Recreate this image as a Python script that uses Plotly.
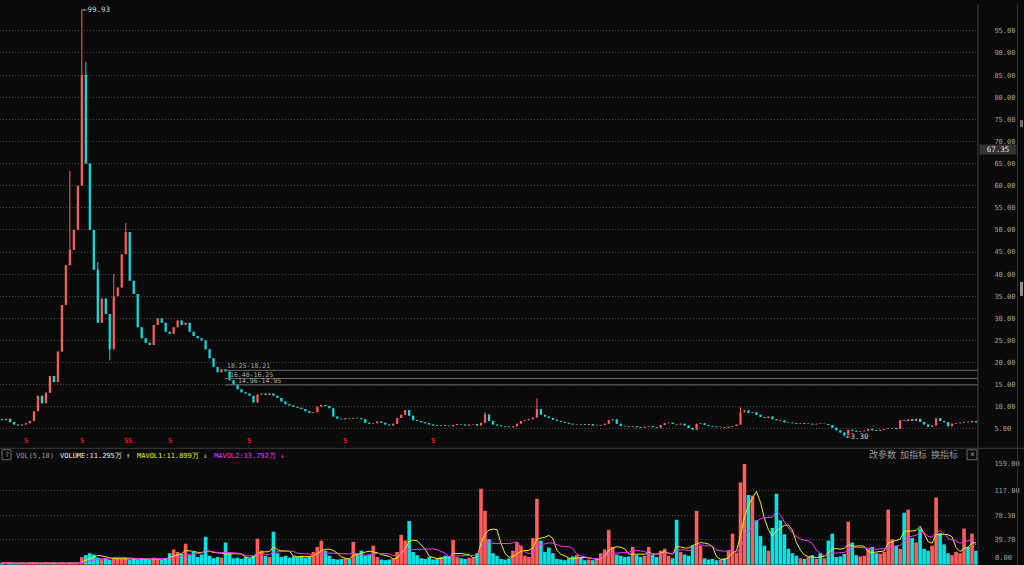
import plotly.graph_objects as go
import pandas as pd

# ---------------- data ----------------
FIRST_OPEN = 7.2
CLOSE = [
    7.0, 7.3, 6.6, 6.0, 5.8, 6.0, 6.3, 6.8, 9.0, 12.5,
    10.8, 13.2, 17.0, 15.6, 22.5, 33.0, 42.0, 45.5, 50.0, 60.0,
    85.0, 65.0, 50.0, 41.0, 29.0, 34.5, 31.0, 23.0, 35.0, 37.0,
    44.5, 49.5, 38.5, 35.5, 28.0, 25.5, 24.5, 24.0, 28.5, 30.0,
    29.0, 27.0, 26.5, 28.0, 29.5, 28.5, 29.0, 27.0, 26.0, 25.5,
    25.0, 23.0, 21.0, 19.0, 17.8, 18.5, 18.0, 16.0, 15.0, 14.0,
    13.3, 13.0, 12.5, 11.0, 12.8, 13.0, 12.7, 13.0, 12.5, 12.0,
    11.2, 10.6, 10.3, 10.0, 9.8, 9.5, 9.0, 8.6, 8.8, 10.0,
    10.4, 10.2, 9.7, 7.8, 7.3, 7.2, 7.4, 7.3, 7.5, 7.4,
    7.2, 6.4, 6.2, 6.3, 6.7, 6.4, 6.0, 5.8, 6.2, 7.5,
    8.2, 9.3, 8.0, 7.0, 6.8, 6.5, 6.3, 6.0, 5.8, 5.7,
    5.8, 5.7, 5.6, 5.9, 6.1, 6.0, 5.8, 6.0, 6.1, 5.8,
    6.4, 8.3, 6.8, 6.0, 5.8, 5.6, 5.5, 5.4, 5.6, 6.2,
    6.8, 7.0, 7.2, 7.6, 9.5, 8.2, 7.8, 7.5, 7.1, 6.8,
    6.6, 6.4, 6.2, 6.0, 6.1, 6.0, 5.9, 6.1, 5.8, 5.8,
    5.9, 6.2, 7.0, 7.2, 6.2, 5.7, 5.6, 5.5, 5.6, 5.4,
    5.3, 5.5, 5.6, 5.4, 5.3, 5.9, 6.3, 6.4, 6.1, 6.0,
    6.2, 5.8, 5.2, 4.8, 6.2, 6.3, 5.9, 5.7, 5.5, 5.4,
    5.4, 5.3, 5.5, 5.7, 6.0, 8.8, 9.2, 8.6, 8.8, 8.2,
    7.7, 7.5, 7.8, 7.2, 7.0, 6.9, 6.5, 6.4, 6.3, 6.2,
    6.3, 6.1, 6.2, 6.0, 6.2, 6.1, 6.1, 5.9, 5.3, 4.7,
    4.2, 3.6, 4.8, 4.6, 4.4, 4.5, 4.6, 5.0, 4.7, 4.6,
    4.8, 5.0, 5.1, 5.2, 5.0, 7.0, 6.8, 7.2, 6.8, 7.3,
    6.6, 6.0, 5.5, 5.8, 7.4, 6.8, 6.5, 5.6, 6.2, 6.3,
    6.4, 6.6, 6.5, 6.8, 6.5,
]
HIGH_MARKS = {17: 63.3, 20: 99.93, 21: 88.0, 24: 42.7, 28: 40.0, 31: 51.5, 121: 8.8, 134: 11.9, 185: 9.9}
LOW_MARKS = {27: 20.5, 211: 3.30}

VOLUME = [
    3, 2, 3, 2, 2, 3, 2, 3, 4, 3,
    2, 3, 2, 3, 2, 3, 2, 3, 2, 2,
    12, 15, 18, 16, 11, 9, 10, 8, 9, 10,
    9, 10, 8, 9, 8, 10, 9, 8, 11, 9,
    8, 9, 18, 24, 20, 17, 33, 15, 20, 12,
    16, 44, 14, 10, 12, 11, 35, 18, 10, 11,
    9, 12, 10, 14, 41, 22, 14, 12, 52, 18,
    12, 14, 11, 13, 12, 14, 11, 13, 20, 28,
    38, 22, 14, 9, 8, 9, 10, 9, 36, 18,
    22, 14, 16, 30, 12, 8, 7, 8, 9, 20,
    47, 38, 69, 20, 15, 10, 9, 12, 8, 9,
    12, 14, 13, 39, 12, 10, 9, 11, 10, 18,
    120, 85, 40, 18, 14, 9, 8, 10, 22, 35,
    30, 14, 12, 42, 104, 38, 20, 27, 18, 9,
    8, 7, 10, 13, 15, 11, 7, 8, 7, 8,
    18, 24, 55, 28, 16, 14, 12, 13, 28, 15,
    12, 14, 28, 16, 12, 22, 25, 14, 10, 71,
    20, 16, 14, 30, 85, 30, 10, 8, 9, 7,
    8, 10, 22, 49, 18, 130, 159, 110, 109, 70,
    45, 30, 22, 58, 112, 70, 48, 25, 18, 14,
    10, 9, 12, 15, 9, 18, 10, 38, 49, 12,
    13, 17, 68, 35, 15, 13, 14, 25, 28, 18,
    17, 20, 87, 40, 30, 25, 82, 87, 42, 35,
    57, 25, 22, 30, 106, 50, 32, 18, 15, 20,
    18, 57, 28, 49, 22,
]

PRICE_TICKS = [5, 10, 15, 20, 25, 30, 35, 40, 45, 50, 55, 60, 65, 70, 75, 80, 85, 90, 95]
VOL_TICKS = [39.7, 78.3, 117.0, 159.0]
VOL_TICK_TEXT = ["39.70", "78.30", "117.00", "159.00"]
LEVELS = [18.25, 16.40, 14.96]
LEVEL_TEXT = ["18.25-18.21", "16.40-16.25", "14.96-14.95"]
SIGNAL_IDX = [6, 20, 31, 32, 42, 62, 86, 108]
CURRENT_PRICE = "67.35"
VOL_LEGEND = ["VOL(5,10)", "VOLUME:11.295万 ↑", "MAVOL1:11.899万 ↓", "MAVOL2:13.792万 ↓"]
MENU = "改参数  加指标  换指标"

# ---------------- build ----------------
W, H = 1024, 565
N = len(CLOSE)
idx = list(range(N))
OPEN = [FIRST_OPEN] + CLOSE[:-1]
HIGH = [max(o, c, HIGH_MARKS.get(i, 0)) for i, (o, c) in enumerate(zip(OPEN, CLOSE))]
LOW = [min(o, c, LOW_MARKS.get(i, 1e9)) for i, (o, c) in enumerate(zip(OPEN, CLOSE))]
IS_UP = [c >= o for o, c in zip(OPEN, CLOSE)]

UP = "#ff5c5c"
DOWN = "#00e6e6"
BG = "#0a0a0a"
GRID = "#4a4a4a"
TXT = "#a0a0a0"
MONO = "DejaVu Sans Mono"
DOTS = "1px,2px"

def px(x):
    return x / W

def py(y):
    return 1 - y / H

XR = 978 / W

fig = go.Figure()

# candle wicks (one path per colour)
for flag, col in ((True, UP), (False, DOWN)):
    wx, wy = [], []
    for i in idx:
        if IS_UP[i] == flag:
            wx += [i, i, None]
            wy += [LOW[i], HIGH[i], None]
    fig.add_trace(go.Scatter(x=wx, y=wy, mode="lines", line=dict(color=col, width=1),
                             xaxis="x", yaxis="y", hoverinfo="skip", connectgaps=False))

# candle bodies
body_base = [min(o, c) for o, c in zip(OPEN, CLOSE)]
body_len = [max(abs(c - o), 0.15) for o, c in zip(OPEN, CLOSE)]
candle_colors = [UP if u else DOWN for u in IS_UP]
fig.add_trace(go.Bar(x=idx, y=body_len, base=body_base, width=0.55,
                     marker=dict(color=candle_colors, line=dict(width=0)),
                     xaxis="x", yaxis="y", hoverinfo="skip"))

# volume
fig.add_trace(go.Bar(x=idx, y=VOLUME, width=0.9, marker=dict(color=candle_colors, line=dict(width=0)),
                     xaxis="x2", yaxis="y2", hoverinfo="skip"))
vs = pd.Series(VOLUME, dtype=float)
fig.add_trace(go.Scatter(x=idx, y=vs.rolling(5, min_periods=1).mean(), mode="lines",
                         line=dict(color="#f0f000", width=1), xaxis="x2", yaxis="y2", hoverinfo="skip"))
fig.add_trace(go.Scatter(x=idx, y=vs.rolling(10, min_periods=1).mean(), mode="lines",
                         line=dict(color="#ff30ff", width=1), xaxis="x2", yaxis="y2", hoverinfo="skip"))

ann = []
shapes = []

def text(x, y, t, color=TXT, size=7, xanchor="left", family=MONO, **kw):
    ann.append(dict(x=px(x), y=py(y), xref="paper", yref="paper", text=t, showarrow=False,
                    xanchor=xanchor, yanchor="middle", font=dict(color=color, size=size, family=family), **kw))

# extremes
ann.append(dict(x=20, y=99.93, xref="x", yref="y", text="←99.93", showarrow=False, xanchor="left",
                yanchor="middle", xshift=-1, font=dict(color="#d0d0d0", size=7.5, family=MONO)))
ann.append(dict(x=211, y=3.30, xref="x", yref="y", text="←3.30", showarrow=False, xanchor="left",
                yanchor="middle", xshift=0, font=dict(color="#d0d0d0", size=7.5, family=MONO)))

# level lines
for k, (lv, lt) in enumerate(zip(LEVELS, LEVEL_TEXT)):
    shapes.append(dict(type="line", xref="x", yref="y", x0=55.8, x1=N - 0.5, y0=lv, y1=lv,
                       line=dict(color="#6a6a6a", width=1)))
    ann.append(dict(x=[55.8, 56.6, 58.5][k], y=lv, xref="x", yref="y", text=lt, showarrow=False,
                    xanchor="left", yanchor="bottom", yshift=-2,
                    font=dict(color="#a8a8a8", size=6.5, family=MONO)))

# signal marks
for si in SIGNAL_IDX:
    ann.append(dict(x=si, y=py(440), xref="x", yref="paper", text="<b>S</b>", showarrow=False,
                    xanchor="center", yanchor="middle", font=dict(color="#ff1010", size=7, family=MONO)))

# current price box
ann.append(dict(x=px(998), y=py(146.5), xref="paper", yref="paper", text=CURRENT_PRICE, showarrow=False,
                xanchor="center", yanchor="middle", bgcolor="#333333", borderpad=0, width=36, height=9,
                font=dict(color="#e0e0e0", size=7.5, family=MONO)))

# volume legend row
text(14, 455, VOL_LEGEND[0], color="#9a9a9a")
text(58, 455, VOL_LEGEND[1], color="#f0f0f0")
text(135, 455, VOL_LEGEND[2], color="#f0f000")
text(212, 455, VOL_LEGEND[3], color="#ff30ff")
text(6.5, 454, "?", color="#9a9a9a", xanchor="center")
shapes.append(dict(type="rect", xref="paper", yref="paper", x0=px(2), x1=px(11), y0=py(459), y1=py(449),
                   line=dict(color="#6a6a6a", width=1)))
text(960, 454, MENU, color="#9a9a9a", size=9, xanchor="right", family="Noto Sans CJK SC")
shapes.append(dict(type="rect", xref="paper", yref="paper", x0=px(967), x1=px(977), y0=py(459), y1=py(449),
                   line=dict(color="#6a6a6a", width=1)))
text(972, 454, "×", color="#9a9a9a", xanchor="center", size=8)
text(993, 558, "0.00", color=TXT)

# frame lines
shapes.append(dict(type="line", xref="paper", yref="paper", x0=XR, x1=XR, y0=0, y1=1,
                   line=dict(color="#3c3c3c", width=1)))
shapes.append(dict(type="line", xref="paper", yref="paper", x0=0, x1=1, y0=py(447.5), y1=py(447.5),
                   line=dict(color="#3c3c3c", width=1)))
shapes.append(dict(type="line", xref="paper", yref="paper", x0=px(1017.5), x1=px(1017.5), y0=0, y1=1,
                   line=dict(color="#2e2e2e", width=1)))
shapes.append(dict(type="rect", xref="paper", yref="paper", x0=px(1020), x1=px(1023), y0=py(124), y1=py(117),
                   line=dict(width=0), fillcolor="#707070"))
shapes.append(dict(type="rect", xref="paper", yref="paper", x0=px(1020), x1=px(1023), y0=py(294), y1=py(280),
                   line=dict(width=0), fillcolor="#909090"))

price_dom_bottom = py(447)
fig.update_layout(
    width=W, height=H, autosize=False,
    margin=dict(l=0, r=0, t=0, b=0),
    paper_bgcolor=BG, plot_bgcolor=BG,
    showlegend=False, barmode="overlay", dragmode=False,
    xaxis=dict(domain=[0, XR], range=[-0.5, N - 0.5], visible=False, fixedrange=True),
    xaxis2=dict(domain=[0, XR], range=[-0.5, N - 0.5], visible=False, anchor="y2", matches="x",
                fixedrange=True),
    yaxis=dict(domain=[price_dom_bottom, 1], range=[0.74, 101.06], side="right", anchor="x",
               tickvals=PRICE_TICKS, ticktext=[f"{v:.2f}" for v in PRICE_TICKS],
               showgrid=True, gridcolor=GRID, griddash=DOTS, gridwidth=1, zeroline=False,
               ticks="outside", ticklen=14, tickcolor="rgba(0,0,0,0)", showline=False,
               tickfont=dict(color=TXT, size=7, family=MONO), fixedrange=True),
    yaxis2=dict(domain=[0, py(463.3)], range=[-0.6, 159], side="right", anchor="x2",
                tickvals=VOL_TICKS, ticktext=VOL_TICK_TEXT,
                showgrid=True, gridcolor=GRID, griddash=DOTS, gridwidth=1, zeroline=False,
                ticks="outside", ticklen=14, tickcolor="rgba(0,0,0,0)", showline=False,
                tickfont=dict(color=TXT, size=7, family=MONO), fixedrange=True),
    annotations=ann, shapes=shapes,
)

fig.write_html("out.html", config=dict(displayModeBar=False, staticPlot=True),
               post_script="document.body.style.margin='0';document.body.style.background='#0a0a0a';")
